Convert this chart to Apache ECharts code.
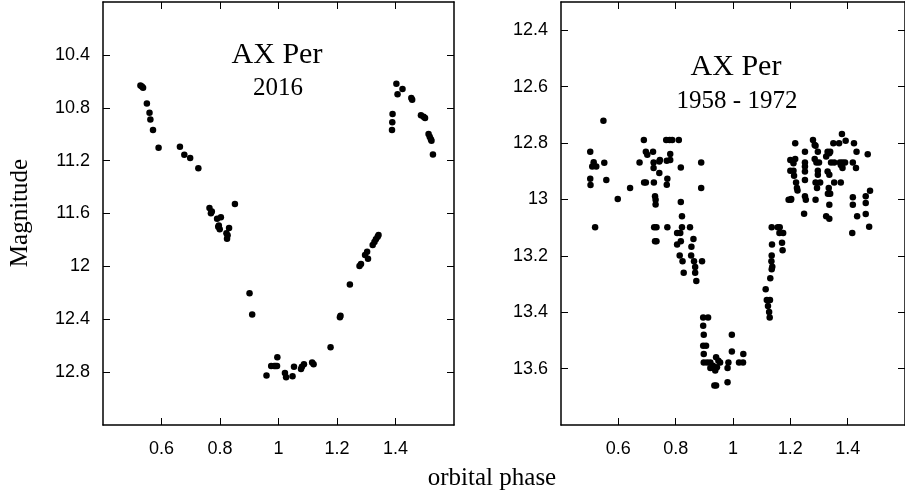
<!DOCTYPE html>
<html>
<head>
<meta charset="utf-8">
<title>AX Per light curves</title>
<script src="https://cdn.jsdelivr.net/npm/echarts@6/dist/echarts.min.js"></script>
<style>
    html, body { margin: 0; padding: 0; background: #fff; }
    #chart-container { width: 905px; height: 490px; }
</style>
</head>
<body>
<div id="chart-container"></div>
<script>
// tick labels
var phaseTicks = [0.6, 0.8, 1, 1.2, 1.4]
var leftMagTicks = [10.4, 10.8, 11.2, 11.6, 12, 12.4, 12.8]
var rightMagTicks = [12.4, 12.6, 12.8, 13, 13.2, 13.4, 13.6]

// 2016 light curve (orbital phase, magnitude)
var leftPhase = [
    0.528, 0.533, 0.537, 0.550, 0.559, 0.562, 0.571, 0.590,
    0.663, 0.678, 0.698, 0.726,
    0.764, 0.769, 0.772, 0.790, 0.803, 0.794, 0.799, 0.796, 0.822, 0.831, 0.824, 0.826, 0.851,
    0.901, 0.910,
    0.959, 0.975, 0.985, 0.990, 0.995, 0.996, 1.022, 1.026, 1.048, 1.053, 1.077, 1.080, 1.087, 1.115, 1.120,
    1.178, 1.210, 1.212, 1.244, 1.277, 1.282, 1.296, 1.303, 1.306, 1.322, 1.328, 1.333, 1.339, 1.342,
    1.388, 1.389, 1.390, 1.403, 1.407, 1.424, 1.454, 1.457, 1.487, 1.496, 1.501,
    1.513, 1.517, 1.521, 1.523, 1.528
]
var leftMag = [
    10.631, 10.640, 10.649, 10.767, 10.838, 10.888, 10.969, 11.103,
    11.095, 11.156, 11.181, 11.257,
    11.559, 11.599, 11.585, 11.639, 11.629, 11.700, 11.720, 11.690, 11.750, 11.710, 11.791, 11.765, 11.528,
    12.203, 12.365,
    12.826, 12.753, 12.753, 12.753, 12.753, 12.687, 12.806, 12.838, 12.831, 12.760, 12.776, 12.760, 12.740, 12.728, 12.740,
    12.612, 12.385, 12.373, 12.138, 11.997, 11.982, 11.914, 11.889, 11.942, 11.838, 11.816, 11.795, 11.775, 11.763,
    10.969, 10.909, 10.848, 10.619, 10.697, 10.659, 10.727, 10.740, 10.856, 10.868, 10.878,
    10.999, 11.020, 11.039, 11.050, 11.153
]

// 1958 - 1972 light curve
var rightPhase = [
    0.502, 0.502, 0.503, 0.509, 0.514, 0.523, 0.519, 0.548, 0.551, 0.558, 0.598, 0.641,
    0.674, 0.689, 0.690, 0.696, 0.696, 0.701, 0.721, 0.723, 0.723, 0.724, 0.728, 0.730, 0.730,
    0.725, 0.733, 0.728, 0.733, 0.743, 0.743, 0.745, 0.769, 0.771, 0.769, 0.771,
    0.767, 0.779, 0.788, 0.781, 0.781, 0.811, 0.818, 0.818, 0.822, 0.805, 0.816, 0.822, 0.850,
    0.805, 0.818, 0.862, 0.855, 0.814, 0.824, 0.828, 0.854, 0.864, 0.868, 0.868, 0.872,
    0.892, 0.889, 0.889,
    0.896, 0.913, 0.896, 0.898, 0.896, 0.906, 0.898, 0.898, 0.910,
    0.921, 0.930, 0.941, 0.949, 0.938, 0.944, 0.955, 0.921, 0.935, 0.941, 0.981,
    0.984, 0.981, 0.996, 0.996, 1.021, 1.035, 1.036,
    1.114, 1.118, 1.129, 1.122, 1.126, 1.128, 1.130, 1.135, 1.137, 1.134, 1.135, 1.136, 1.135,
    1.156, 1.163, 1.162, 1.175, 1.171, 1.173,
    1.202, 1.194, 1.203,
    1.217, 1.251, 1.279, 1.285, 1.288, 1.296, 1.330, 1.339, 1.350, 1.370, 1.393, 1.380, 1.422, 1.431, 1.470,
    1.200, 1.217, 1.211, 1.251, 1.251, 1.251, 1.285, 1.291, 1.300, 1.325, 1.336, 1.342, 1.353,
    1.373, 1.380, 1.391, 1.382, 1.418, 1.429,
    1.200, 1.211, 1.213, 1.251, 1.296, 1.296, 1.330, 1.336, 1.382, 1.376,
    1.220, 1.223, 1.225, 1.251, 1.254, 1.288, 1.293, 1.288, 1.304,
    1.334, 1.336, 1.331, 1.339, 1.353, 1.376,
    1.336, 1.325, 1.336, 1.248,
    1.418, 1.418, 1.433, 1.463, 1.463, 1.478, 1.463, 1.475, 1.416
]
var rightMag = [
    12.831, 12.927, 12.949, 12.883, 12.868, 12.883, 13.099, 12.721, 12.870, 12.931, 12.999, 12.960,
    12.869, 12.789, 12.940, 12.940, 12.831, 12.842, 12.831, 12.869, 12.889, 12.940, 12.989, 13.001, 13.018,
    13.099, 13.099, 13.148, 13.148, 12.866, 12.906, 12.860, 12.863, 12.927, 12.948, 13.099,
    12.789, 12.789, 12.789, 12.839, 12.860, 12.789, 12.887, 13.009, 13.060, 13.119, 13.119, 13.099, 13.099,
    13.160, 13.148, 13.140, 13.168, 13.199, 13.219, 13.260, 13.199, 13.219, 13.240, 13.260, 13.289,
    13.219, 12.869, 12.960,
    13.419, 13.419, 13.448, 13.480, 13.519, 13.519, 13.548, 13.578, 13.578,
    13.578, 13.590, 13.560, 13.572, 13.607, 13.595, 13.578, 13.598, 13.660, 13.660, 13.648,
    13.578, 13.598, 13.539, 13.480, 13.578, 13.578, 13.548,
    13.319, 13.357, 13.357, 13.378, 13.399, 13.419, 13.280, 13.248, 13.239, 13.219, 13.199, 13.160, 13.099,
    13.099, 13.099, 13.119, 13.119, 13.154, 13.180,
    13.001, 13.001, 12.999,
    12.801, 12.831, 12.789, 12.807, 12.810, 12.831, 12.831, 12.831, 12.801, 12.801, 12.792, 12.768, 12.801, 12.831, 12.840,
    12.860, 12.857, 12.872, 12.869, 12.883, 12.901, 12.857, 12.869, 12.869, 12.848, 12.836, 12.869, 12.869,
    12.869, 12.881, 12.869, 12.869, 12.869, 12.889,
    12.898, 12.898, 12.916, 12.931, 12.898, 12.913, 12.901, 12.913, 12.889, 12.878,
    12.940, 12.960, 12.968, 12.989, 13.001, 12.940, 12.960, 13.001, 12.940,
    12.960, 12.978, 12.980, 12.980, 12.940, 12.940,
    13.019, 13.060, 13.069, 13.051,
    12.992, 13.019, 13.060, 12.989, 13.013, 12.969, 13.052, 13.097, 13.119
]

function zip(xs, ys) {
    return xs.map(function (x, i) { return [x, ys[i]] })
}

var chartDom = document.getElementById('chart-container')
var myChart = echarts.init(chartDom, null, { renderer: 'canvas' })

var LABEL_FONT = 'Liberation Sans'
var frameLine = { show: true, onZero: false, lineStyle: { color: '#000', width: 1.5 } }

// bottom / left axes carry labels, top / right axes only draw the frame + inward ticks
function phaseAxis(gridIndex, pos) {
    var main = pos === 'bottom'
    return {
        type: 'value',
        gridIndex: gridIndex,
        position: pos,
        min: 0.4,
        max: 1.6,
        axisLine: frameLine,
        axisTick: { show: true, inside: true, length: 7, lineStyle: { color: '#000', width: 1 }, customValues: phaseTicks },
        axisLabel: {
            show: main,
            customValues: phaseTicks,
            margin: 15,
            color: '#000',
            fontFamily: LABEL_FONT,
            fontSize: 18
        },
        splitLine: { show: false }
    }
}

function magAxis(gridIndex, pos, min, max, ticks) {
    var main = pos === 'left'
    return {
        type: 'value',
        gridIndex: gridIndex,
        position: pos,
        inverse: true,
        min: min,
        max: max,
        axisLine: frameLine,
        axisTick: { show: true, inside: true, length: 7, lineStyle: { color: '#000', width: 1 }, customValues: ticks },
        axisLabel: {
            show: main,
            customValues: ticks,
            margin: 13,
            color: '#000',
            fontFamily: LABEL_FONT,
            fontSize: 18
        },
        splitLine: { show: false }
    }
}

var dotStyle = { color: '#000', opacity: 1 }

var option = {
    animation: false,
    backgroundColor: '#fff',
    grid: [
        { left: 103, top: 2, width: 351, height: 423 },
        { left: 561, top: 2, width: 352, height: 423 }
    ],
    xAxis: [
        phaseAxis(0, 'bottom'),
        phaseAxis(0, 'top'),
        phaseAxis(1, 'bottom'),
        phaseAxis(1, 'top')
    ],
    yAxis: [
        magAxis(0, 'left', 10, 13.2, leftMagTicks),
        magAxis(0, 'right', 10, 13.2, leftMagTicks),
        magAxis(1, 'left', 12.3, 13.8, rightMagTicks),
        magAxis(1, 'right', 12.3, 13.8, rightMagTicks)
    ],
    series: [
        {
            name: '2016',
            type: 'scatter',
            xAxisIndex: 0,
            yAxisIndex: 0,
            symbolSize: 6.5,
            itemStyle: dotStyle,
            data: zip(leftPhase, leftMag)
        },
        {
            name: '1958 - 1972',
            type: 'scatter',
            xAxisIndex: 2,
            yAxisIndex: 2,
            symbolSize: 6.5,
            itemStyle: dotStyle,
            data: zip(rightPhase, rightMag)
        }
    ],
    graphic: [
        // panel titles
        { type: 'text', x: 277, y: 55, style: { text: 'AX Per', font: '30px "Liberation Serif"', fill: '#000', align: 'center', verticalAlign: 'middle', textAlign: 'center', textVerticalAlign: 'middle' } },
        { type: 'text', x: 278, y: 88, style: { text: '2016', font: '25px "Liberation Serif"', fill: '#000', align: 'center', verticalAlign: 'middle', textAlign: 'center', textVerticalAlign: 'middle' } },
        { type: 'text', x: 736, y: 67, style: { text: 'AX Per', font: '30px "Liberation Serif"', fill: '#000', align: 'center', verticalAlign: 'middle', textAlign: 'center', textVerticalAlign: 'middle' } },
        { type: 'text', x: 737, y: 101, style: { text: '1958 - 1972', font: '25px "Liberation Serif"', fill: '#000', align: 'center', verticalAlign: 'middle', textAlign: 'center', textVerticalAlign: 'middle' } },
        // shared axis titles
        { type: 'text', x: 492, y: 478, style: { text: 'orbital phase', font: '25px "Liberation Serif"', fill: '#000', align: 'center', verticalAlign: 'middle', textAlign: 'center', textVerticalAlign: 'middle' } },
        { type: 'text', x: 20, y: 213, rotation: Math.PI / 2, style: { text: 'Magnitude', font: '25px "Liberation Serif"', fill: '#000', align: 'center', verticalAlign: 'middle', textAlign: 'center', textVerticalAlign: 'middle' } }
    ]
}

myChart.setOption(option)
</script>
</body>
</html>
